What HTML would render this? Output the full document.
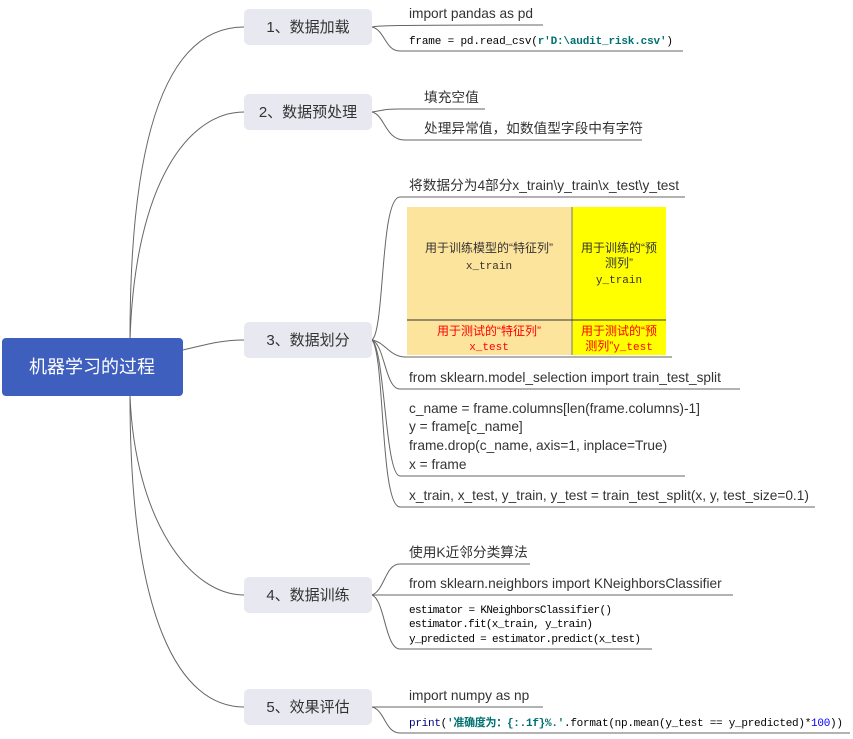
<!DOCTYPE html>
<html><head><meta charset="utf-8"><style>
body{margin:0;background:#fff;width:853px;height:734px;overflow:hidden}
svg text{font-family:"Liberation Sans","Noto Sans CJK SC",sans-serif}
.s{font-size:13.7px;fill:#333}
.m{font-family:"Liberation Mono","Noto Sans CJK SC",monospace!important;font-size:11px;fill:#000}
.n{font-size:15px;fill:#333}
</style></head><body>
<svg width="853" height="734" xmlns="http://www.w3.org/2000/svg">
<g fill="none" stroke="#666" stroke-width="1">
<path d="M130,338 C130,100 180,27 244,27"/>
<path d="M130,340 C135,180 190,112 244,112"/>
<path d="M183,350 C205,345 220,340 244,340"/>
<path d="M130,396 C135,520 190,595 244,595"/>
<path d="M130,396 C130,620 180,707 244,707"/>
<path d="M372,27 C378,26 372,25 543,25"/>
<path d="M372,27 C385,30 385,51 400,51 L683,51"/>
<path d="M372,112 C385,110 385,109 400,109 L485,109"/>
<path d="M372,112 C385,115 385,140 405,140 L642,140"/>
<path d="M372,340 C385,330 380,197 400,197 L685,197"/>
<path d="M372,340 C385,342 390,357 405,357 L672,357"/>
<path d="M372,340 C385,345 385,389 400,389 L740,389"/>
<path d="M372,340 C385,350 385,476 400,476 L685,476"/>
<path d="M372,340 C385,355 380,507 400,507 L815,507"/>
<path d="M372,595 C385,590 385,564 400,564 L530,564"/>
<path d="M372,595 L733,595"/>
<path d="M372,595 C385,600 385,649 400,649 L652,649"/>
<path d="M372,707 L543,707"/>
<path d="M372,707 C385,710 385,733 400,733 L850,733"/>
</g>
<rect x="2" y="338" width="181" height="58" rx="4" fill="#3f5fbf"/>
<text x="92" y="373" text-anchor="middle" font-size="18" fill="#fff">机器学习的过程</text>
<g fill="#e8e8f0">
<rect x="244" y="9" width="128" height="36" rx="5"/>
<rect x="244" y="94" width="128" height="36" rx="5"/>
<rect x="244" y="322" width="128" height="36" rx="5"/>
<rect x="244" y="577" width="128" height="36" rx="5"/>
<rect x="244" y="689" width="128" height="36" rx="5"/>
</g>
<text class="n" x="308" y="32" text-anchor="middle">1、数据加载</text>
<text class="n" x="308" y="117" text-anchor="middle">2、数据预处理</text>
<text class="n" x="308" y="345" text-anchor="middle">3、数据划分</text>
<text class="n" x="308" y="600" text-anchor="middle">4、数据训练</text>
<text class="n" x="308" y="712" text-anchor="middle">5、效果评估</text>

<text class="s" x="409" y="18">import pandas as pd</text>
<text class="m" x="409" y="44" textLength="264">frame = pd.read_csv(<tspan fill="#007070" font-weight="bold">r'D:\audit_risk.csv'</tspan>)</text>
<text class="s" x="424" y="102">填充空值</text>
<text class="s" x="424" y="133">处理异常值，如数值型字段中有字符</text>

<text class="s" x="409" y="190">将数据分为4部分x_train\y_train\x_test\y_test</text>
<rect x="407" y="207" width="165" height="148" fill="#fde49c"/>
<rect x="572" y="207" width="94" height="148" fill="#ffff00"/>
<line x1="572" y1="207" x2="572" y2="355" stroke="#777"/>
<line x1="407" y1="320" x2="666" y2="320" stroke="#333"/>
<g font-size="12" text-anchor="middle">
<text x="489" y="252" fill="#333">用于训练模型的“特征列”</text>
<text x="489" y="269" class="m" style="fill:#333">x_train</text>
<text x="619" y="252" fill="#333">用于训练的“预</text>
<text x="619" y="267" fill="#333">测列”</text>
<text x="619" y="283" class="m" style="fill:#333">y_train</text>
<text x="489" y="335" fill="#f00">用于测试的“特征列”</text>
<text x="489" y="350" class="m" style="fill:#f00">x_test</text>
<text x="619" y="335" fill="#f00">用于测试的“预</text>
<text x="619" y="350" fill="#f00">测列”<tspan class="m" style="fill:#f00">y_test</tspan></text>
</g>
<text class="s" x="409" y="382">from sklearn.model_selection  import train_test_split</text>
<text class="s" x="409" y="413">c_name = frame.columns[len(frame.columns)-1]</text>
<text class="s" x="409" y="431">y = frame[c_name]</text>
<text class="s" x="409" y="450">frame.drop(c_name, axis=1, inplace=True)</text>
<text class="s" x="409" y="469">x = frame</text>
<text class="s" x="409" y="500">x_train, x_test, y_train, y_test = train_test_split(x, y, test_size=0.1)</text>

<text class="s" x="409" y="557">使用K近邻分类算法</text>
<text class="s" x="409" y="588">from sklearn.neighbors import KNeighborsClassifier</text>
<text class="m" x="409" y="613" textLength="203">estimator = KNeighborsClassifier()</text>
<text class="m" x="409" y="627" textLength="184">estimator.fit(x_train, y_train)</text>
<text class="m" x="409" y="642" textLength="232">y_predicted = estimator.predict(x_test)</text>

<text class="s" x="409" y="700">import numpy as np</text>
<text class="m" x="409" y="726" textLength="434"><tspan fill="#000080">print</tspan>(<tspan fill="#007070" font-weight="bold">'准确度为：{:.1f}%.'</tspan>.format(np.mean(y_test == y_predicted)*<tspan fill="#0000ff">100</tspan>))</text>
</svg>
</body></html>
